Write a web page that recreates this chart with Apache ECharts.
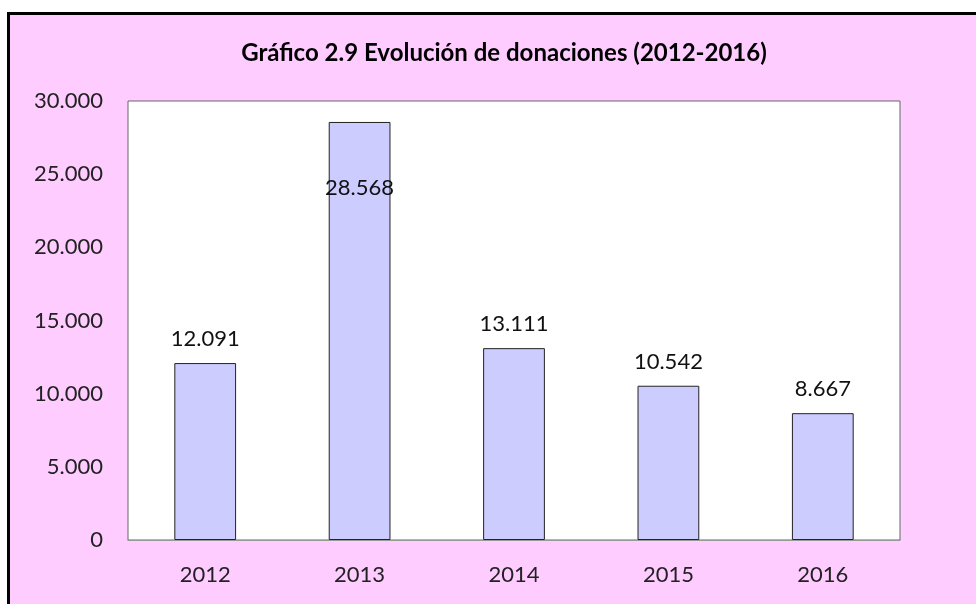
<!DOCTYPE html>
<html>
<head>
<meta charset="UTF-8" />
<script src="https://cdn.jsdelivr.net/npm/echarts@6/dist/echarts.min.js"></script>
<style>
  html, body { margin: 0; padding: 0; background: #fff; }
  #frame {
    position: absolute; left: 7px; top: 12px; width: 1000px; height: 700px;
    background: #FFCCFF; border: 3px solid #000;
  }
  #main { position: absolute; left: 0; top: 0; width: 976px; height: 604px; }
</style>
</head>
<body>
<div id="frame"></div>
<div id="main"></div>
<script>
  const years = ['2012', '2013', '2014', '2015', '2016'];
  const donations = [12091, 28568, 13111, 10542, 8667];

  const fmt = (v) => String(v).replace(/\B(?=(\d{3})+(?!\d))/g, '.');
  const font = 'Lato, "Open Sans", sans-serif';

  const chart = echarts.init(document.getElementById('main'));
  chart.setOption({
    backgroundColor: 'transparent',
    animation: false,
    title: {
      text: 'Gráfico 2.9 Evolución de donaciones (2012-2016)',
      left: 499,
      top: 36,
      textAlign: 'center',
      textStyle: { fontFamily: font, fontSize: 24, fontWeight: 'bold', color: '#000' }
    },
    grid: {
      left: 128, top: 101, right: 76, bottom: 64,
      show: true, backgroundColor: '#fff', borderColor: '#666', borderWidth: 1
    },
    xAxis: {
      type: 'category',
      data: years,
      axisTick: { show: false },
      axisLine: { lineStyle: { color: '#999' } },
      axisLabel: { fontFamily: font, fontSize: 22, color: '#222', margin: 24 }
    },
    yAxis: {
      type: 'value',
      min: 0, max: 30000, interval: 5000,
      splitLine: { show: false },
      axisLine: { show: false },
      axisTick: { show: false },
      axisLabel: { fontFamily: font, fontSize: 22, color: '#222', margin: 25, formatter: fmt }
    },
    series: [{
      type: 'bar',
      barWidth: '40%',
      data: donations.map((v, i) => i === 1
        ? { value: v, label: { position: 'insideTop', distance: 55 } }
        : v),
      itemStyle: { color: '#CCCCFF', borderColor: '#222', borderWidth: 1 },
      label: {
        show: true, position: 'top', distance: 13,
        fontFamily: font, fontSize: 22, color: '#111',
        formatter: (p) => fmt(p.value)
      }
    }]
  });
</script>
</body>
</html>
